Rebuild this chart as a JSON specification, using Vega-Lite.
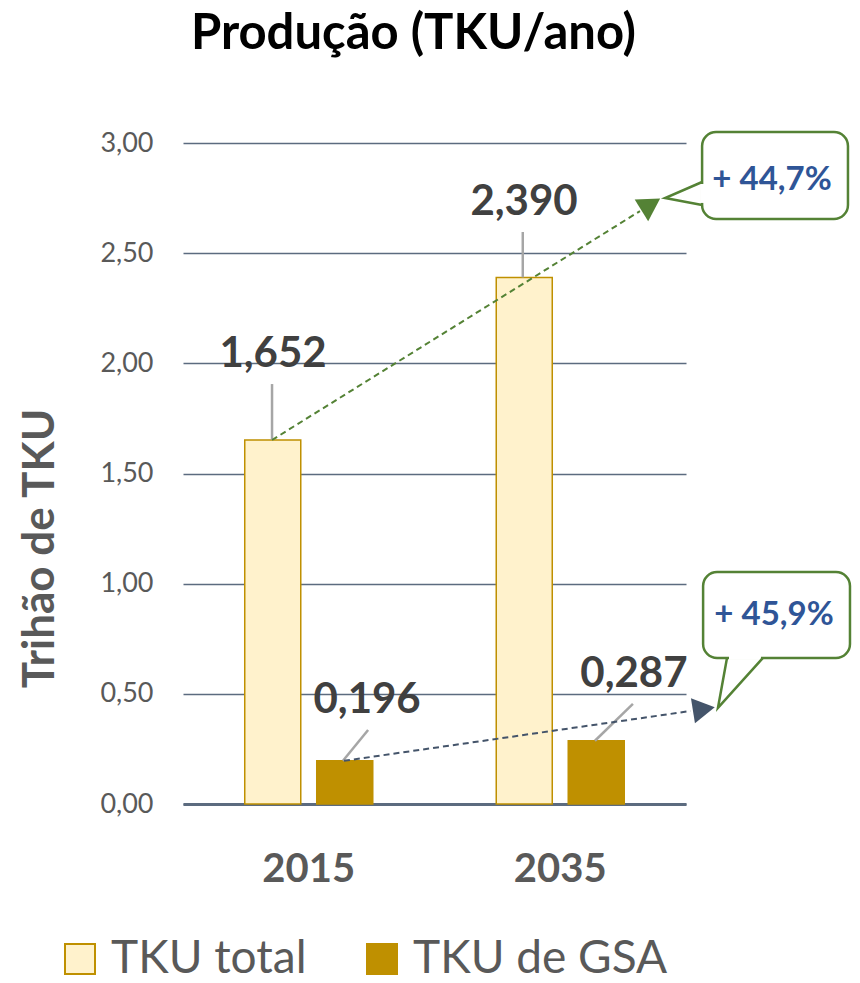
{
  "$schema": "https://vega.github.io/schema/vega-lite/v6.json",
  "width": 503,
  "height": 661,
  "autosize": "none",
  "padding": {"left": 183, "top": 143, "right": 174, "bottom": 179},
  "background": "white",
  "title": {"text": "Produção (TKU/ano)", "font": "Lato", "fontSize": 49, "fontWeight": "bold", "color": "#000000", "anchor": "middle", "frame": "group", "dx": -21, "dy": -66},
  "config": {"view": {"stroke": null}, "font": "Lato"},
  "datasets": {
    "bars": [
      {"year": "2015", "series": "TKU total", "value": 1.652},
      {"year": "2015", "series": "TKU de GSA", "value": 0.196},
      {"year": "2035", "series": "TKU total", "value": 2.390},
      {"year": "2035", "series": "TKU de GSA", "value": 0.287}
    ],
    "leaders": [
      {"x": 0.354, "y": 1.652, "x2": 0.354, "y2": 1.906},
      {"x": 1.351, "y": 2.390, "x2": 1.351, "y2": 2.596},
      {"x": 0.636, "y": 0.196, "x2": 0.736, "y2": 0.336},
      {"x": 1.638, "y": 0.287, "x2": 1.789, "y2": 0.454}
    ],
    "labels": [
      {"x": 0.358, "y": 1.983, "label": "1,652"},
      {"x": 1.356, "y": 2.673, "label": "2,390"},
      {"x": 0.732, "y": 0.413, "label": "0,196"},
      {"x": 1.793, "y": 0.531, "label": "0,287"}
    ],
    "boxes": [
      {"x": 2.064, "x2": 2.644, "y": 3.050, "y2": 2.655},
      {"x": 2.068, "x2": 2.652, "y": 1.053, "y2": 0.663}
    ],
    "covers": [
      {"x": 2.064, "x2": 2.064, "y": 2.814, "y2": 2.728},
      {"x": 2.171, "x2": 2.298, "y": 0.663, "y2": 0.663}
    ],
    "pointers": [
      {"pid": "a", "ord": 1, "x": 2.064, "y": 2.823},
      {"pid": "a", "ord": 2, "x": 1.917, "y": 2.750},
      {"pid": "a", "ord": 3, "x": 2.064, "y": 2.719},
      {"pid": "b", "ord": 1, "x": 2.163, "y": 0.663},
      {"pid": "b", "ord": 2, "x": 2.127, "y": 0.436},
      {"pid": "b", "ord": 3, "x": 2.306, "y": 0.663}
    ],
    "callouts": [
      {"x": 2.342, "y": 2.787, "label": "+ 44,7%"},
      {"x": 2.350, "y": 0.812, "label": "+ 45,9%"}
    ],
    "greenArrow": [{"x": 0.354, "y": 1.652, "x2": 1.817, "y2": 2.691}],
    "greenHead": [{"x": 1.860, "y": 2.721}],
    "blueArrow": [{"x": 0.640, "y": 0.196, "x2": 2.018, "y2": 0.422}],
    "blueHead": [{"x": 2.071, "y": 0.431}]
  },
  "layer": [
    {
      "data": {"name": "bars"},
      "mark": {"type": "bar", "stroke": "#BF9000", "strokeWidth": 1.5},
      "encoding": {
        "x": {
          "field": "year", "type": "nominal",
          "scale": {"paddingInner": 0.491, "paddingOuter": 0.2455},
          "axis": {"title": null, "labelAngle": 0, "labelFont": "Lato", "labelFontSize": 40, "labelFontWeight": "bold", "labelColor": "#595959", "labelPadding": 45, "ticks": false, "tickSize": 0, "domainColor": "#5C6B7F", "domainWidth": 3}
        },
        "xOffset": {
          "field": "series", "type": "nominal", "sort": ["TKU total", "TKU de GSA"],
          "scale": {"paddingInner": 0.222, "paddingOuter": 0}
        },
        "y": {
          "field": "value", "type": "quantitative",
          "scale": {"domain": [0, 3], "nice": false},
          "axis": {
            "values": [0, 0.5, 1, 1.5, 2, 2.5, 3],
            "labelExpr": "replace(format(datum.value, '.2f'), '.', ',')",
            "title": "Trihão de TKU", "titleFont": "Lato", "titleFontSize": 44, "titleFontWeight": "bold", "titleColor": "#595959",
            "titleX": -143, "titleY": 405, "titleAngle": -90, "titleAlign": "center", "titleBaseline": "middle",
            "labelFont": "Lato", "labelFontSize": 27, "labelColor": "#595959", "labelPadding": 30,
            "ticks": false, "tickSize": 0, "domain": false,
            "grid": true, "gridColor": "#5C6B7F", "gridWidth": 1.5
          }
        },
        "fill": {
          "field": "series", "type": "nominal",
          "scale": {"domain": ["TKU total", "TKU de GSA"], "range": ["#FFF2CC", "#BF9000"]},
          "legend": {"title": null, "orient": "none", "legendX": -126, "legendY": 793, "direction": "horizontal", "symbolType": "square", "symbolSize": 900, "symbolStrokeColor": "#BF9000", "symbolStrokeWidth": 2, "labelFont": "Lato", "labelFontSize": 46, "labelColor": "#595959", "labelOffset": 8, "labelLimit": 500, "columnPadding": 52, "padding": 0}
        }
      }
    },
    {
      "layer": [
        {
          "data": {"name": "leaders"},
          "mark": {"type": "rule", "stroke": "#A6A6A6", "strokeWidth": 2.5},
          "encoding": {
            "x": {"field": "x", "type": "quantitative", "scale": {"domain": [0, 2], "nice": false, "zero": false}, "axis": null},
            "x2": {"field": "x2"},
            "y": {"field": "y", "type": "quantitative", "scale": {"domain": [0, 3], "nice": false}},
            "y2": {"field": "y2"}
          }
        },
        {
          "data": {"name": "greenArrow"},
          "mark": {"type": "rule", "stroke": "#548235", "strokeWidth": 2, "strokeDash": [6, 4]},
          "encoding": {
            "x": {"field": "x", "type": "quantitative"},
            "x2": {"field": "x2"},
            "y": {"field": "y", "type": "quantitative"},
            "y2": {"field": "y2"}
          }
        },
        {
          "data": {"name": "greenHead"},
          "mark": {"type": "point", "shape": "triangle-up", "filled": true, "fill": "#548235", "opacity": 1, "size": 650, "angle": 58},
          "encoding": {
            "x": {"field": "x", "type": "quantitative"},
            "y": {"field": "y", "type": "quantitative"}
          }
        },
        {
          "data": {"name": "blueArrow"},
          "mark": {"type": "rule", "stroke": "#44546A", "strokeWidth": 2, "strokeDash": [6, 4]},
          "encoding": {
            "x": {"field": "x", "type": "quantitative"},
            "x2": {"field": "x2"},
            "y": {"field": "y", "type": "quantitative"},
            "y2": {"field": "y2"}
          }
        },
        {
          "data": {"name": "blueHead"},
          "mark": {"type": "point", "shape": "triangle-up", "filled": true, "fill": "#44546A", "opacity": 1, "size": 650, "angle": 81},
          "encoding": {
            "x": {"field": "x", "type": "quantitative"},
            "y": {"field": "y", "type": "quantitative"}
          }
        },
        {
          "data": {"name": "labels"},
          "mark": {"type": "text", "font": "Lato", "fontSize": 42, "fontWeight": "bold", "color": "#404040", "align": "center", "baseline": "alphabetic"},
          "encoding": {
            "x": {"field": "x", "type": "quantitative"},
            "y": {"field": "y", "type": "quantitative"},
            "text": {"field": "label"}
          }
        },
        {
          "data": {"name": "boxes"},
          "mark": {"type": "rect", "fill": "white", "stroke": "#548235", "strokeWidth": 2.5, "cornerRadius": 14},
          "encoding": {
            "x": {"field": "x", "type": "quantitative"},
            "x2": {"field": "x2"},
            "y": {"field": "y", "type": "quantitative"},
            "y2": {"field": "y2"}
          }
        },
        {
          "data": {"name": "covers"},
          "mark": {"type": "rule", "stroke": "white", "strokeWidth": 4},
          "encoding": {
            "x": {"field": "x", "type": "quantitative"},
            "x2": {"field": "x2"},
            "y": {"field": "y", "type": "quantitative"},
            "y2": {"field": "y2"}
          }
        },
        {
          "data": {"name": "pointers"},
          "mark": {"type": "line", "stroke": "#548235", "strokeWidth": 2.5, "strokeJoin": "miter"},
          "encoding": {
            "x": {"field": "x", "type": "quantitative"},
            "y": {"field": "y", "type": "quantitative"},
            "detail": {"field": "pid"},
            "order": {"field": "ord"}
          }
        },
        {
          "data": {"name": "callouts"},
          "mark": {"type": "text", "font": "Lato", "fontSize": 33, "fontWeight": "bold", "color": "#2F5597", "align": "center", "baseline": "alphabetic"},
          "encoding": {
            "x": {"field": "x", "type": "quantitative"},
            "y": {"field": "y", "type": "quantitative"},
            "text": {"field": "label"}
          }
        }
      ]
    }
  ],
  "resolve": {"scale": {"x": "independent"}}
}
